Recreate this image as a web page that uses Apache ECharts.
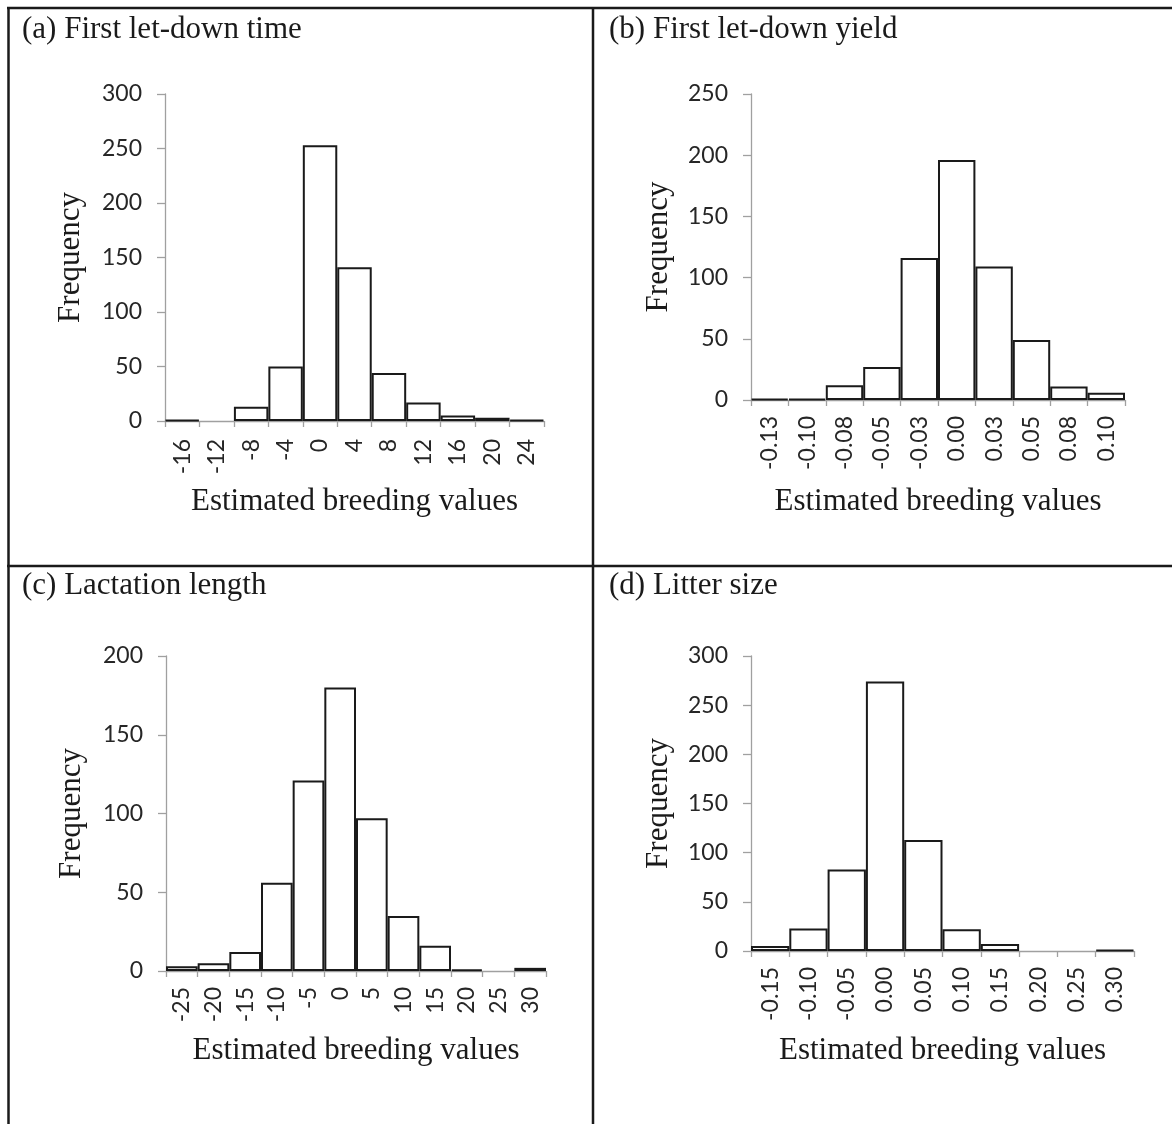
<!DOCTYPE html>
<html>
<head>
<meta charset="utf-8">
<script src="https://cdn.jsdelivr.net/npm/echarts@6/dist/echarts.min.js"></script>
<style>
  html, body { margin: 0; padding: 0; background: #fff; }
  #main { width: 1172px; height: 1124px; }
</style>
</head>
<body>
<div id="main"></div>
<script>
// bin labels and frequencies
const catsA = ['-16', '-12', '-8', '-4', '0', '4', '8', '12', '16', '20', '24'];
const freqA = [1, 0, 13, 50, 253, 141, 44, 17, 5, 3, 1];

const catsB = ['-0.13', '-0.10', '-0.08', '-0.05', '-0.03', '0.00', '0.03', '0.05', '0.08', '0.10'];
const freqB = [1, 1, 12, 27, 116, 196, 109, 49, 11, 6];

const catsC = ['-25', '-20', '-15', '-10', '-5', '0', '5', '10', '15', '20', '25', '30'];
const freqC = [3, 5, 12, 56, 121, 180, 97, 35, 16, 1, 0, 2];

const catsD = ['-0.15', '-0.10', '-0.05', '0.00', '0.05', '0.10', '0.15', '0.20', '0.25', '0.30'];
const freqD = [5, 23, 83, 274, 113, 22, 7, 0, 0, 1];

const yMaxes = [300, 250, 200, 300];
const titles = ['(a) First let-down time', '(b) First let-down yield', '(c) Lactation length', '(d) Litter size'];
const xName = 'Estimated breeding values';
const yName = 'Frequency';

const serif = 'Liberation Serif';
const sans = 'Lato';
const axisGray = '#a0a0a0';
const ink = '#1a1a1a';

var chart = echarts.init(document.getElementById('main'), null, { renderer: 'canvas' });

// plot boxes: left, top, right, bottom (px)
const boxes = [
  [165, 94, 544, 421],
  [751, 94, 1125, 400],
  [166, 656, 546, 971],
  [751, 656, 1134, 951]
];
const xGaps = [65, 86, 64, 84];
const yGaps = [79, 77, 79, 77];
const labelMargins = [18, 16, 16, 16];

const allCats = [catsA, catsB, catsC, catsD];
const allFreq = [freqA, freqB, freqC, freqD];

var grids = [], xAxes = [], yAxes = [], series = [];
for (let i = 0; i < 4; i++) {
  const b = boxes[i];
  grids.push({
    left: b[0], top: b[1], width: b[2] - b[0], height: b[3] - b[1],
    containLabel: false, outerBoundsMode: 'none'
  });
  xAxes.push({
    type: 'category',
    gridIndex: i,
    data: allCats[i],
    boundaryGap: true,
    name: xName,
    nameLocation: 'middle',
    nameGap: xGaps[i],
    nameTextStyle: { fontFamily: serif, fontSize: 31, color: ink, verticalAlign: 'top' },
    axisLine: { show: true, lineStyle: { color: axisGray, width: 1.3 } },
    axisTick: { show: true, length: 6, interval: 0, lineStyle: { color: axisGray, width: 1.3 } },
    axisLabel: {
      interval: 0, rotate: 90, margin: labelMargins[i],
      fontFamily: sans, fontSize: 23, color: '#262626'
    },
    splitLine: { show: false }
  });
  yAxes.push({
    type: 'value',
    gridIndex: i,
    min: 0, max: yMaxes[i], interval: 50,
    name: yName,
    nameLocation: 'middle',
    nameGap: yGaps[i],
    nameTextStyle: { fontFamily: serif, fontSize: 31, color: ink },
    axisLine: { show: true, lineStyle: { color: axisGray, width: 1.3 } },
    axisTick: { show: true, length: 8, lineStyle: { color: axisGray, width: 1.3 } },
    axisLabel: { margin: 23, fontFamily: sans, fontSize: 23, color: '#262626' },
    splitLine: { show: false }
  });
  series.push({
    type: 'bar',
    xAxisIndex: i,
    yAxisIndex: i,
    barCategoryGap: '0%',
    data: allFreq[i].map(v => v === 0 ? '-' : v),
    itemStyle: { color: '#ffffff', borderColor: ink, borderWidth: 2 },
    animation: false
  });
}

const titlePos = [[22, 14], [609, 14], [22, 570], [609, 570]];
var titleOpts = titles.map((t, i) => ({
  text: t, left: titlePos[i][0], top: titlePos[i][1], padding: 0,
  textStyle: { fontFamily: serif, fontSize: 31, fontWeight: 'normal', color: ink }
}));

// table rules around the four panels
const rule = { stroke: ink, lineWidth: 2.5 };
var graphics = [
  { type: 'line', shape: { x1: 7, y1: 8, x2: 1172, y2: 8 }, style: rule },
  { type: 'line', shape: { x1: 8.5, y1: 7, x2: 8.5, y2: 1124 }, style: rule },
  { type: 'line', shape: { x1: 593, y1: 7, x2: 593, y2: 1124 }, style: rule },
  { type: 'line', shape: { x1: 7, y1: 566, x2: 1172, y2: 566 }, style: rule }
];

chart.setOption({
  animation: false,
  backgroundColor: '#ffffff',
  title: titleOpts,
  grid: grids,
  xAxis: xAxes,
  yAxis: yAxes,
  series: series,
  graphic: graphics
});
</script>
</body>
</html>
